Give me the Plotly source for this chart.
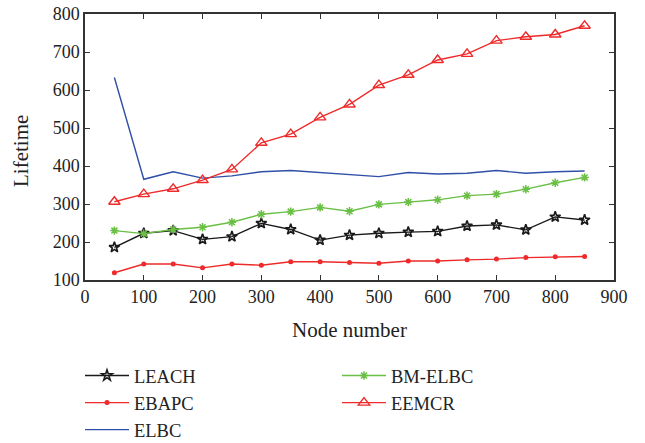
import plotly.graph_objects as go

x = [50, 100, 150, 200, 250, 300, 350, 400, 450, 500, 550, 600, 650, 700, 750, 800, 850]
leach = [186, 223, 230, 207, 214, 249, 233, 205, 218, 223, 226, 228, 242, 245, 232, 266, 258]
ebapc = [119, 142, 142, 132, 142, 139, 148, 148, 146, 144, 150, 150, 153, 155, 159, 161, 162]
elbc = [633, 365, 385, 368, 374, 385, 388, 383, 377, 372, 383, 379, 381, 388, 381, 385, 387]
bmelbc = [230, 222, 233, 239, 252, 273, 280, 291, 281, 299, 305, 311, 322, 326, 339, 356, 370]
eemcr = [306, 326, 340, 363, 391, 461, 484, 528, 562, 613, 640, 679, 695, 730, 740, 746, 769]

FONT = "Liberation Serif"
W, H = 645, 443
L, R, T, B = 85, 31, 14, 163
fig = go.Figure()
fig.add_trace(go.Scatter(x=x, y=leach, name="LEACH", mode="lines+markers",
                         line=dict(color="#1a1a1a", width=1.4),
                         marker=dict(symbol="star-open", size=8, color="#1a1a1a", line=dict(width=1.6)),
                         legend="legend"))
fig.add_trace(go.Scatter(x=x, y=ebapc, name="EBAPC", mode="lines+markers",
                         line=dict(color="#ee2a2a", width=1.4),
                         marker=dict(symbol="circle", size=5, color="#ee2a2a"),
                         legend="legend"))
fig.add_trace(go.Scatter(x=x, y=elbc, name="ELBC", mode="lines",
                         line=dict(color="#3050a8", width=1.4),
                         legend="legend"))
fig.add_trace(go.Scatter(x=x, y=bmelbc, name="BM-ELBC", mode="lines+markers",
                         line=dict(color="#6abf45", width=1.4),
                         marker=dict(symbol="asterisk-open", size=7, color="#6abf45", line=dict(width=1.5, color="#6abf45")),
                         legend="legend2"))
fig.add_trace(go.Scatter(x=x, y=eemcr, name="EEMCR", mode="lines+markers",
                         line=dict(color="#ee2a2a", width=1.4),
                         marker=dict(symbol="triangle-up-open", size=10, color="#ee2a2a", line=dict(width=1.4)),
                         legend="legend2"))

axis_common = dict(showline=True, linecolor="#333333", linewidth=1.5, mirror="ticks",
                   ticks="inside", ticklen=5, tickcolor="#333333", tickwidth=1.2,
                   showgrid=False, zeroline=False, automargin=False,
                   tickfont=dict(family=FONT, size=18, color="#222222"))
fig.update_xaxes(range=[0, 900], dtick=100, tick0=0, **axis_common)
fig.update_yaxes(range=[100, 800], dtick=100, tick0=100, **axis_common)

title_font = dict(family=FONT, size=21, color="#222222")
pw, ph = W - L - R, H - T - B
fig.add_annotation(text="Node number", xref="paper", yref="paper",
                   x=0.5, y=-(330 - (H - B)) / ph, xanchor="center", yanchor="middle",
                   showarrow=False, font=title_font)
fig.add_annotation(text="Lifetime", xref="paper", yref="paper",
                   x=(21 - L) / pw, y=(H - B - 151) / ph, xanchor="center", yanchor="middle",
                   textangle=-90, showarrow=False, font=title_font)

legend_font = dict(family=FONT, size=18.5, color="#222222")
fig.update_layout(
    width=W, height=H,
    margin=dict(l=L, r=R, t=T, b=B, autoexpand=False),
    paper_bgcolor="white", plot_bgcolor="white",
    legend=dict(x=80 / W, y=1 - 357 / H, xref="container", yref="container",
                xanchor="left", yanchor="top", orientation="v",
                font=legend_font, tracegroupgap=0, itemwidth=44, bgcolor="rgba(0,0,0,0)"),
    legend2=dict(x=337 / W, y=1 - 357 / H, xref="container", yref="container",
                 xanchor="left", yanchor="top", orientation="v",
                 font=legend_font, tracegroupgap=0, itemwidth=44, bgcolor="rgba(0,0,0,0)"),
)
fig.write_html("out.html")
